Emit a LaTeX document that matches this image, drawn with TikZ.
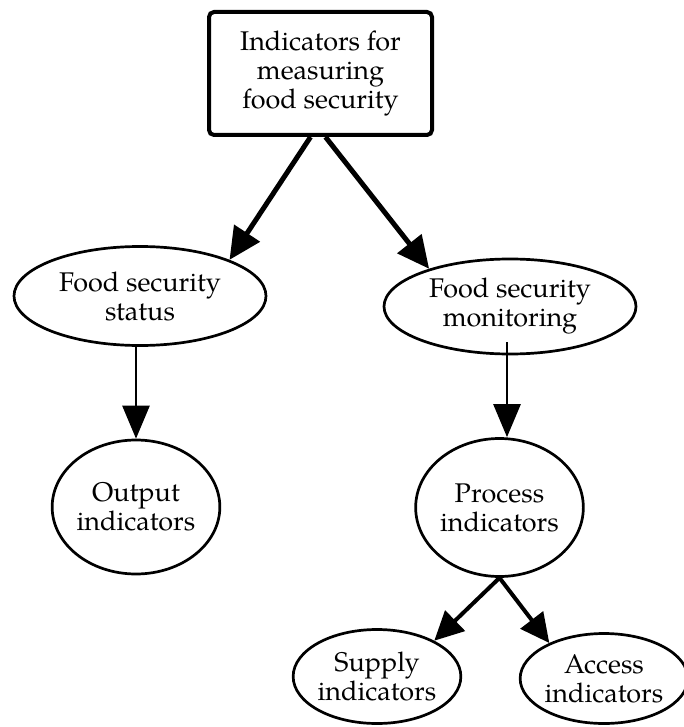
\documentclass[tikz,border=0pt]{standalone}
\usepackage{fontspec}
\setmainfont{TeX Gyre Pagella}
\usetikzlibrary{shapes.geometric,arrows.meta}
\begin{document}
\begin{tikzpicture}[x=1pt,y=-1pt,
  every node/.style={align=center,font=\fontsize{27}{29}\selectfont,inner sep=0pt},
  oval/.style={draw,ellipse,line width=2.7pt},
  topbox/.style={draw,rectangle,rounded corners=5pt,line width=4pt},
  bigarrow/.style={line width=5pt,-{Triangle[length=32pt,width=30pt]}},
  midarrow/.style={line width=4pt,-{Triangle[length=29pt,width=28pt]}},
  vertarrow/.style={line width=2.7pt,-{Triangle[length=33pt,width=27pt]}}
]
\useasboundingbox (0,0) rectangle (683,727);

\node[topbox,minimum width=223pt,minimum height=123pt] (top) at (320.5,73.5)
  {Indicators for\\measuring\\food security};
\node[oval,minimum width=252pt,minimum height=99pt] (status) at (140,296)
  {Food security\\status};
\node[oval,minimum width=252pt,minimum height=95pt] (monitor) at (510,306.5)
  {Food security\\monitoring};
\node[oval,minimum width=138pt,minimum height=134pt] (output) at (136,507)
  {Output\\indicators};
\node[oval,minimum width=145pt,minimum height=138pt] (process) at (499.5,507.5)
  {Process\\indicators};
\node[oval,minimum width=157pt,minimum height=94pt] (supply) at (377,676.5)
  {Supply\\indicators};
\node[oval,minimum width=155pt,minimum height=90pt] (access) at (604,678.5)
  {Access\\indicators};

\draw[bigarrow] ([xshift=-10pt]top.south) -- (status.22);
\draw[bigarrow] ([xshift=5pt]top.south) -- (monitor.155);
\draw[vertarrow] (output.north |- status.south) -- (output.north);
\draw[vertarrow] ([xshift=-3pt,yshift=13pt]monitor.south) coordinate (m1) -- (m1 |- process.north);
\draw[midarrow] (process.south) -- (supply.32);
\draw[midarrow] (process.south) -- (access.147);
\end{tikzpicture}
\end{document}
